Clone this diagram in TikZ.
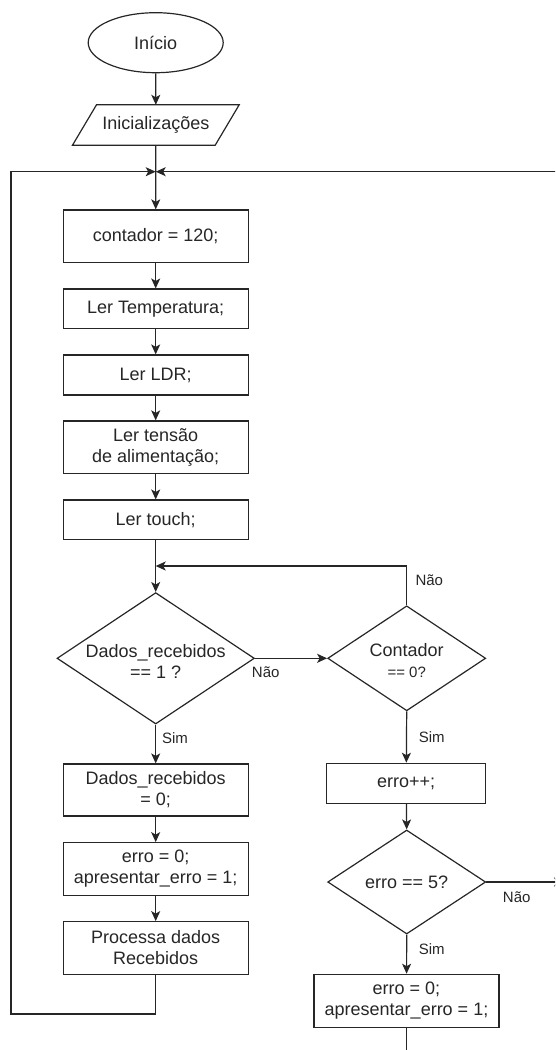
\documentclass[tikz,border=0pt]{standalone}
\usepackage{fontspec}
\setmainfont{Liberation Sans}
\usetikzlibrary{shapes.geometric,arrows.meta,calc}

\begin{document}
\begin{tikzpicture}[x=1pt,y=-1pt,
  every node/.style={font=\fontsize{18}{21}\selectfont, text=black!85},
  line/.style={draw=black!85, line width=1.2pt},
  arr/.style={line, -{Stealth[length=10pt,width=9pt,inset=2.5pt]}},
  procbox/.style={rectangle, draw=black!85, line width=1.2pt, minimum width=185pt, inner sep=0pt, align=center},
  term/.style={ellipse, draw=black!85, line width=1.2pt, minimum width=135pt, minimum height=60pt, inner sep=0pt},
  iobox/.style={rectangle, minimum width=142.3pt, minimum height=40pt, inner sep=0pt},
  decision/.style={diamond, draw=black!85, line width=1.2pt, inner sep=0pt},
  dtext/.style={align=center, inner sep=0pt},
  lbl/.style={font=\fontsize{15}{18}\selectfont, inner sep=0pt}
]
\useasboundingbox (0,0) rectangle (555,1050);
\clip (0,0) rectangle (555,1050);

% start and initialisation
\node[term] (start) at (155.7,42.7) {Início};
\node[iobox] (init) at (155.85,125) {Inicializações};
\draw[line] ([xshift=-12pt]init.south west) -- ([xshift=12pt]init.north west)
  -- ([xshift=12pt]init.north east) -- ([xshift=-12pt]init.south east) -- cycle;

% main loop body
\node[procbox, minimum height=52.7pt] (c120) at (155.7,236.3) {contador = 120;};
\node[procbox, minimum height=39.7pt] (temp) at (155.7,308.9) {Ler Temperatura;};
\node[procbox, minimum height=40pt] (ldr) at (155.7,375) {Ler LDR;};
\node[procbox, minimum height=52.7pt] (tens) at (155.7,447.3) {Ler tensão\\de alimentação;};
\node[procbox, minimum height=39.3pt] (touch) at (155.7,519.7) {Ler touch;};

% first decision
\node[decision, minimum width=197.4pt, minimum height=131.4pt] (d1) at (155.7,658.3) {};
\node[dtext] (d1t) at (155.7,661) {Dados\_recebidos\\== 1 ?};

\node[procbox, minimum height=52pt] (dr0) at (155.7,790) {Dados\_recebidos\\= 0;};
\node[procbox, minimum height=52.6pt] (e0) at (155.7,869) {erro = 0;\\apresentar\_erro = 1;};
\node[procbox, minimum height=52.6pt] (proc) at (155.7,948) {Processa dados\\Recebidos};

% second decision
\node[decision, minimum width=158pt, minimum height=105pt] (d2) at (406.7,658.3) {};
\node[dtext] (d2t) at (406.7,661) {Contador\\{\fontsize{15}{18}\selectfont == 0?}};

\node[procbox, minimum width=159pt, minimum height=40pt] (inc) at (406.2,783.3) {erro++;};

% third decision
\node[decision, minimum width=158pt, minimum height=104pt] (d3) at (406.7,882) {};
\node[dtext] (d3t) at (406.7,882) {erro == 5?};

\node[procbox, minimum height=53pt] (reset) at (406.5,1000.8) {erro = 0;\\apresentar\_erro = 1;};

% branch labels
\node[lbl] (n1) at (265.7,671.7) {Não};
\node[lbl] (s1) at (175,738) {Sim};
\node[lbl] (n2) at (429.3,580) {Não};
\node[lbl] (s2) at (431.7,737.3) {Sim};
\node[lbl] (n3) at (516.7,896.7) {Não};
\node[lbl] (s3) at (431.7,949.3) {Sim};

% routing points
\coordinate (merge) at (155.7,171.7);
\coordinate (rin) at (570,171.7);
\coordinate (lb) at (155.7,1014);
\coordinate (lbl) at (11,1014);
\coordinate (ltop) at (11,171.7);
\coordinate (m2) at (155.7,566);
\coordinate (d2up) at (406.7,566);
\coordinate (d3out) at (564,882);
\coordinate (resetout) at (406.5,1060);

% connectors
\draw[arr] (start) -- (init);
\draw[arr] (init) -- (c120);
\draw[arr] (proc.south) -- (lb) -- (lbl) -- (ltop) -- (merge);
\draw[arr] (rin) -- (merge);
\draw[arr] (c120) -- (temp);
\draw[arr] (temp) -- (ldr);
\draw[arr] (ldr) -- (tens);
\draw[arr] (tens) -- (touch);
\draw[arr] (touch) -- (d1);
\draw[arr] (d1.east) -- (d2.west);
\draw[arr] (d2.north) -- (d2up) -- (m2);
\draw[arr] (d1.south) -- (dr0);
\draw[arr] (dr0) -- (e0);
\draw[arr] (e0) -- (proc);
\draw[arr] (d2.south) -- (inc);
\draw[arr] (inc) -- (d3.north);
\draw[arr] (d3.east) -- (d3out);
\draw[arr] (d3.south) -- (reset);
\draw[line] (reset.south) -- (resetout);
\end{tikzpicture}
\end{document}
